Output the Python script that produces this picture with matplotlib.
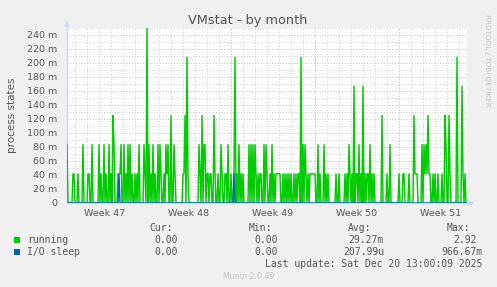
import matplotlib
matplotlib.use("Agg")
import matplotlib.pyplot as plt
from matplotlib.patches import Rectangle, Polygon

# ---------------- data ----------------
# 2-hour slots starting Mon Nov 17 08:00; each digit = number of 5-minute
# samples (out of 24 in the slot) in which the state was seen.
running_days = [
    "20000011",        # Nov 17
    "000100002000",    # Nov 18
    "011002000000",    # Nov 19
    "201002010020",    # Nov 20
    "103200011120",    # Nov 21
    "020102020100",    # Nov 22
    "101020000210",    # Nov 23
    "602010201002",    # Nov 24
    "021001021200",    # Nov 25
    "300210000000",    # Nov 26
    "113051000000",    # Nov 27
    "000021030220",    # Nov 28
    "110110031001",    # Nov 29
    "002100110200",    # Nov 30
    "100150102010",    # Dec 1
    "100000202020",    # Dec 2
    "210101100202",    # Dec 3
    "100102010111",    # Dec 4
    "110010101010",    # Dec 5
    "100101011050",    # Dec 6
    "202101011111",    # Dec 7
    "100201000201",    # Dec 8
    "010000000100",    # Dec 9
    "100000101021",    # Dec 10
    "010401102010",    # Dec 11
    "401011020101",    # Dec 12
    "000000030000",    # Dec 13
    "100200000000",    # Dec 14
    "100011000010",    # Dec 15
    "000311100002",    # Dec 16
    "021213110010",    # Dec 17
    "100100010032",    # Dec 18
    "003100000050",    # Dec 19
    "00041010",        # Dec 20
]
io_sleep_days = [
    "00000000",        # Nov 17
    "000000000000",    # Nov 18
    "000000000000",    # Nov 19
    "000000000000",    # Nov 20
    "000000001000",    # Nov 21
    "000000000000",    # Nov 22
    "000000000000",    # Nov 23
    "000000000000",    # Nov 24
    "000000000000",    # Nov 25
    "000000000000",    # Nov 26
    "000000000000",    # Nov 27
    "000000000000",    # Nov 28
    "000000000000",    # Nov 29
    "000000000000",    # Nov 30
    "000100000000",    # Dec 1
    "000000000000",    # Dec 2
    "000000000000",    # Dec 3
    "000000000000",    # Dec 4
    "000000000000",    # Dec 5
    "000000000000",    # Dec 6
    "000000000000",    # Dec 7
    "000000000000",    # Dec 8
    "000000000000",    # Dec 9
    "000000000000",    # Dec 10
    "000000000000",    # Dec 11
    "000000000000",    # Dec 12
    "000000000000",    # Dec 13
    "000000000000",    # Dec 14
    "000000000000",    # Dec 15
    "000000000000",    # Dec 16
    "000000000000",    # Dec 17
    "000000000000",    # Dec 18
    "000000000000",    # Dec 19
    "00000000",        # Dec 20
]
first_slot_hour = 8          # hour of first slot on day 0 (Mon Nov 17)
slot_hours = 2
samples_per_slot = 24

week_labels = ["Week 47", "Week 48", "Week 49", "Week 50", "Week 51"]
week_starts = [0, 7, 14, 21, 28]          # days since Mon Nov 17
y_ticks = [0, 20, 40, 60, 80, 100, 120, 140, 160, 180, 200, 220, 240]

legend_names = ["running", "I/O sleep"]
legend_colors = ["#00CC00", "#0066B3"]
legend_cur = ["0.00", "0.00"]
legend_min = ["0.00", "0.00"]
legend_avg = ["29.27m", "207.99u"]
legend_max = ["2.92", "966.67m"]
last_update = "Last update: Sat Dec 20 13:00:09 2025"

# ---------------- derived series ----------------
def expand(days):
    s = "".join(days)
    return [int(c) * 1000.0 / samples_per_slot for c in s]

running = expand(running_days)
io_sleep = expand(io_sleep_days)
t = [(first_slot_hour + slot_hours * i) / 24.0 for i in range(len(running))]
x0 = t[0]
x1 = x0 + len(running) * slot_hours / 24.0

# ---------------- figure ----------------
W, H = 497, 287
def fx(p): return p / W
def fy(p): return 1 - p / H

FONT = "#555555"
fig = plt.figure(figsize=(W / 100, H / 100), dpi=100, facecolor="#F0F0F0")
ax = fig.add_axes([fx(67), fy(203), fx(467) - fx(67), fy(28) - fy(203)])
ax.set_facecolor("white")
ax.set_xlim(x0, x1)
ax.set_ylim(0, 250)

minor_c = "#D2D2D2"
major_c = "#EFAAAA"
dots = (0, (1, 1.8))
for v in range(10, 251, 10):
    ax.axhline(v, color=major_c if v % 20 == 0 else minor_c, lw=0.72,
               ls=dots, zorder=1, clip_on=False)
for d in range(1, 34):
    ax.axvline(d, color=major_c if d % 7 == 0 else minor_c, lw=0.72,
               ls=dots, zorder=1)

ax.plot(t, running, color=legend_colors[0], lw=1.05, zorder=3)
ax.plot(t, io_sleep, color=legend_colors[1], lw=1.05, zorder=4)

for s in ["top", "right"]:
    ax.spines[s].set_visible(False)
for s in ["left", "bottom"]:
    ax.spines[s].set_color("#CFD6F8")
    ax.spines[s].set_linewidth(1.0)
    ax.spines[s].set_zorder(2)

ax.set_yticks(y_ticks, labels=[("%d m" % v) if v else "0" for v in y_ticks])
ax.set_xticks([w + 3.5 for w in week_starts], labels=week_labels)
ax.tick_params(axis="both", length=0, labelsize=6.8, labelcolor=FONT)
ax.tick_params(axis="y", pad=7)
ax.tick_params(axis="x", pad=4)

# axis arrows
fig.patches.append(Polygon([[fx(64), fy(27)], [fx(70), fy(27)], [fx(67), fy(21)]],
                           closed=True, transform=fig.transFigure,
                           facecolor="#CFD6F8", edgecolor="none"))
fig.patches.append(Polygon([[fx(468), fy(200)], [fx(468), fy(206)], [fx(474), fy(203)]],
                           closed=True, transform=fig.transFigure,
                           facecolor="#CFD6F8", edgecolor="none"))

# titles / labels
fig.text(fx(248), fy(24.3), "VMstat - by month", ha="center", va="baseline",
         fontsize=9.25, color=FONT, family="DejaVu Sans")
fig.text(fx(12), fy(115), "process states", rotation=90, ha="center",
         va="center", fontsize=7.5, color=FONT, family="DejaVu Sans")
fig.text(fx(487.5), fy(14), "RRDTOOL / TOBI OETIKER", rotation=270,
         ha="center", va="top", fontsize=5.2, color="#C4C4C4",
         family="DejaVu Sans")

# legend
mono = dict(family="DejaVu Sans Mono", fontsize=7.0, color=FONT, va="baseline")
fig.text(fx(149), fy(230.7), "Cur:", **mono)
fig.text(fx(249), fy(230.7), "Min:", **mono)
fig.text(fx(348), fy(230.7), "Avg:", **mono)
fig.text(fx(447), fy(230.7), "Max:", **mono)
rows = [243.3, 255.0]
for k in range(2):
    yb = rows[k]
    fig.patches.append(Rectangle((fx(14), fy(yb)), fx(6), 6 / H,
                                 transform=fig.transFigure,
                                 facecolor=legend_colors[k], edgecolor="none"))
    fig.text(fx(27), fy(yb), legend_names[k], **mono)
    fig.text(fx(178), fy(yb), legend_cur[k], ha="right", **mono)
    fig.text(fx(278), fy(yb), legend_min[k], ha="right", **mono)
    fig.text(fx(384), fy(yb), legend_avg[k], ha="right", **mono)
    fig.text(fx(483 if legend_max[k][-1].isalpha() else 477), fy(yb),
             legend_max[k], ha="right", **mono)
fig.text(fx(482.5), fy(266.7), last_update, ha="right", **mono)
fig.text(fx(249), fy(279), "Munin 2.0.49", ha="center", va="baseline",
         fontsize=5.7, color="#C4C4C4", family="DejaVu Sans")

fig.savefig("out.png", dpi=100, facecolor=fig.get_facecolor())
